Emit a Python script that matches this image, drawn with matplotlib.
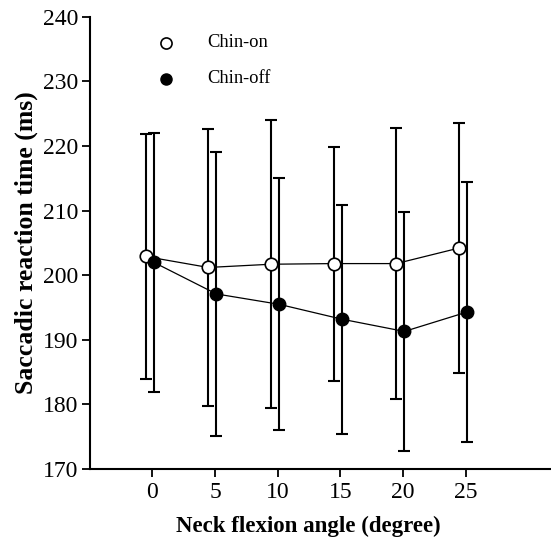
import numpy as np
import matplotlib
matplotlib.use('Agg')
import matplotlib.pyplot as plt

plt.rcParams['font.family'] = ['Liberation Serif', 'DejaVu Serif']

angles = [0, 5, 10, 15, 20, 25]
chin_on = [202.9, 201.2, 201.7, 201.8, 201.8, 204.2]
chin_on_sd = [19.0, 21.5, 22.3, 18.1, 21.0, 19.3]
chin_off = [202.0, 197.1, 195.5, 193.2, 191.3, 194.3]
chin_off_sd = [20.0, 22.0, 19.5, 17.7, 18.5, 20.1]

x = np.array(angles, dtype=float)

fig = plt.figure(figsize=(5.51, 5.41), dpi=100)
ax = fig.add_axes([0.163, 0.133, 0.837, 0.836])

ax.errorbar(x - 0.55, chin_on, yerr=chin_on_sd, fmt='none', ecolor='black',
            elinewidth=1.5, capsize=4, capthick=1.5, zorder=1)
ax.errorbar(x + 0.1, chin_off, yerr=chin_off_sd, fmt='none', ecolor='black',
            elinewidth=1.5, capsize=4, capthick=1.5, zorder=1)
ax.plot(x - 0.55, chin_on, '-o', color='black', lw=0.9, ms=9,
        mfc='white', mec='black', mew=1.2, zorder=3)
ax.plot(x + 0.1, chin_off, '-o', color='black', lw=0.9, ms=9,
        mfc='black', mec='black', zorder=3)

# legend drawn as markers + text
ax.plot([1.05], [236.0], 'o', ms=8, mfc='white', mec='black', mew=1.2,
        clip_on=False)
ax.plot([1.05], [230.4], 'o', ms=8, mfc='black', mec='black', clip_on=False)
ax.text(4.4, 236.0, 'Chin-on', fontsize=13.3, va='center')
ax.text(4.4, 230.4, 'Chin-off', fontsize=13.3, va='center')

ax.set_xlim(-5.0, 31.8)
ax.set_ylim(170, 240)
ax.set_xticks(angles)
ax.set_yticks(range(170, 241, 10))
ax.tick_params(axis='both', labelsize=17, width=1.3, length=6, direction='out')
ax.tick_params(axis='y', pad=2)
for s in ['top', 'right']:
    ax.spines[s].set_visible(False)
for s in ['left', 'bottom']:
    ax.spines[s].set_linewidth(1.5)

ax.set_xlabel('Neck flexion angle (degree)', fontsize=16.5, fontweight='bold')
ax.xaxis.set_label_coords(0.474, -0.104)
ax.set_ylabel('Saccadic reaction time (ms)', fontsize=18.5, fontweight='bold',
              labelpad=4)

fig.savefig('out.png', dpi=100)
